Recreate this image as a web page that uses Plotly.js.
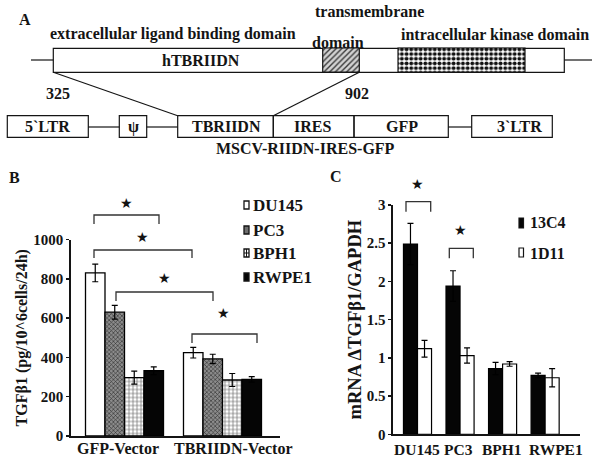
<!DOCTYPE html>
<html><head><meta charset="utf-8">
<script src="https://cdn.plot.ly/plotly-3.0.1.min.js"></script>
<style>html,body{margin:0;padding:0;background:#fff;} #chart{width:601px;height:462px;}</style>
</head><body><div id="chart"></div>
<script>
// ---------- Panel B data ----------
const groupsB = ['GFP-Vector', 'TBRIIDN-Vector'];
const seriesB = ['DU145', 'PC3', 'BPH1', 'RWPE1'];
const du145B = [830, 424];
const du145BErr = [45, 27];
const pc3B = [630, 392];
const pc3BErr = [35, 24];
const bph1B = [297, 285];
const bph1BErr = [33, 33];
const rwpe1B = [332, 288];
const rwpe1BErr = [20, 14];
const yTicksB = [0, 200, 400, 600, 800, 1000];

// ---------- Panel C data ----------
const cellsC = ['DU145', 'PC3', 'BPH1', 'RWPE1'];
const seriesC = ['13C4', '1D11'];
const c13C4 = [2.49, 1.94, 0.86, 0.77];
const c13C4Err = [0.27, 0.20, 0.08, 0.03];
const c1D11 = [1.12, 1.03, 0.92, 0.74];
const c1D11Err = [0.11, 0.10, 0.03, 0.12];
const yTicksC = [0, 0.5, 1, 1.5, 2, 2.5, 3];

// ---------- helpers ----------
const W = 601, H = 462;
const px = p => p / W;
const py = p => 1 - p / H;
const INK = '#141414';
const F = (size, extra) => Object.assign({family: 'Liberation Serif, Times New Roman, serif', size: size, color: INK, weight: 'bold'}, extra || {});
const ann = (text, x, y, size, opts) => Object.assign({text: text, xref: 'paper', yref: 'paper', x: px(x), y: py(y),
  xanchor: 'center', yanchor: 'middle', showarrow: false, font: F(size)}, opts || {});
const star = (x, y) => ({text: '★', xref: 'paper', yref: 'paper', x: px(x), y: py(y), xanchor: 'center', yanchor: 'middle',
  showarrow: false, font: {family: 'DejaVu Sans', size: 14, color: INK}});
const rect = (x0, y0, x1, y1, fill, extra) => Object.assign({type: 'rect', xref: 'paper', yref: 'paper',
  x0: px(x0), x1: px(x1), y0: py(y0), y1: py(y1), fillcolor: fill || 'rgba(0,0,0,0)', line: {color: INK, width: 1.2}}, extra || {});
const seg = (x0, y0, x1, y1, w) => ({type: 'line', xref: 'paper', yref: 'paper', x0: px(x0), x1: px(x1), y0: py(y0), y1: py(y1),
  line: {color: INK, width: w || 1.2}});
const bracket = (x0, x1, yTop, yBot) => ({type: 'path', xref: 'paper', yref: 'paper',
  path: `M ${px(x0)} ${py(yBot)} L ${px(x0)} ${py(yTop)} L ${px(x1)} ${py(yTop)} L ${px(x1)} ${py(yBot)}`,
  line: {color: '#333', width: 1.3}});
const boldTicks = vals => vals.map(v => '<b>' + v + '</b>');

// ---------- traces ----------
const errStyle = arr => ({type: 'data', array: arr, visible: true, color: '#000', thickness: 1.2, width: 3});
const bw = 0.199;
const valsB = [du145B, pc3B, bph1B, rwpe1B];
const errsB = [du145BErr, pc3BErr, bph1BErr, rwpe1BErr];
const markersB = [
  {color: '#ffffff', line: {color: '#000', width: 1.3}},
  {color: '#7a7a7a', line: {color: '#000', width: 1.3},
    pattern: {shape: 'x', fgcolor: '#2b2b2b', bgcolor: '#8c8c8c', size: 3, solidity: 0.35, fillmode: 'replace'}},
  {color: '#ffffff', line: {color: '#000', width: 1.3},
    pattern: {shape: '+', fgcolor: '#707070', bgcolor: '#ffffff', size: 4, solidity: 0.33, fillmode: 'replace'}},
  {color: '#050505', line: {color: '#000', width: 1.3}}
];
const traces = seriesB.map((name, k) => ({
  type: 'bar', name: name, x: groupsB, y: valsB[k], xaxis: 'x', yaxis: 'y',
  width: bw, offset: (k - 2) * bw, marker: markersB[k], error_y: errStyle(errsB[k]), hoverinfo: 'x+y+name'
}));

const cw = 0.33;
traces.push({type: 'bar', name: seriesC[0], x: cellsC, y: c13C4, xaxis: 'x2', yaxis: 'y2', width: cw, offset: -cw,
  marker: {color: '#050505', line: {color: '#000', width: 1.2}}, error_y: errStyle(c13C4Err)});
traces.push({type: 'bar', name: seriesC[1], x: cellsC, y: c1D11, xaxis: 'x2', yaxis: 'y2', width: cw, offset: 0,
  marker: {color: '#ffffff', line: {color: '#000', width: 1.2}}, error_y: errStyle(c1D11Err)});

// Panel A patterned domains (schematic, on a pixel overlay axis)
traces.push({type: 'bar', orientation: 'h', xaxis: 'x3', yaxis: 'y3', y: [60], base: [322.7], x: [36.6], width: [24],
  hoverinfo: 'skip', marker: {color: '#cccccc', line: {color: INK, width: 1.2},
  pattern: {shape: '/', fgcolor: '#3a3a3a', bgcolor: '#d2d2d2', size: 4, solidity: 0.35, fillmode: 'replace'}}});
traces.push({type: 'bar', orientation: 'h', xaxis: 'x3', yaxis: 'y3', y: [60], base: [398], x: [127], width: [24],
  hoverinfo: 'skip', marker: {color: '#777', line: {color: INK, width: 1.2},
  pattern: {shape: '.', fgcolor: '#111111', bgcolor: '#ffffff', size: 4.7, solidity: 0.55, fillmode: 'replace'}}});

// ---------- shapes ----------
const shapes = [
  // Panel A gene bar
  rect(53.3, 48.3, 564.3, 72.3, '#ffffff', {layer: 'below'}),
  seg(31, 60, 53.3, 60), seg(564.3, 60, 592, 60),
  seg(53.3, 72.3, 177.7, 115.7), seg(359.3, 72.3, 273.3, 115.7),
  // Panel A construct
  rect(7.3, 115.7, 88.3, 137.3), rect(119.3, 115.7, 146.7, 137.3),
  rect(177.7, 115.7, 273.3, 137.3), rect(273.3, 115.7, 354, 137.3), rect(354, 115.7, 448.3, 137.3),
  rect(471.7, 115.7, 552.3, 137.3),
  seg(88.3, 127, 119.3, 127), seg(146.7, 127, 177.7, 127), seg(448.3, 127, 471.7, 127),
  // Panel B brackets
  bracket(94, 159, 215, 224), bracket(94, 192, 250, 258), bracket(116, 213, 292, 301), bracket(192, 257, 334, 343),
  // Panel C brackets
  bracket(406, 430.7, 201.7, 211.7), bracket(449.3, 473.3, 248.3, 258.3),
  // Panel B legend icons
  rect(244, 201, 249, 209, '#ffffff', {line: {color: INK, width: 1.3}}),
  rect(244, 226, 249, 234, '#6e6e6e', {line: {color: INK, width: 1.3}}),
  rect(244, 249, 249, 257, '#ffffff', {line: {color: INK, width: 1.3}}),
  seg(244, 253, 249, 253, 1), seg(246.5, 249, 246.5, 257, 1),
  rect(244, 273, 249, 281, '#050505', {line: {color: INK, width: 1.3}}),
  // Panel C legend icons
  rect(519, 218, 523.5, 228, '#050505', {line: {color: INK, width: 1.2}}),
  rect(519, 248, 523.5, 257, '#ffffff', {line: {color: INK, width: 1.2}})
];

// ---------- annotations ----------
const annotations = [
  ann('A', 25, 20, 16),
  ann('transmembrane', 369, 11, 16),
  ann('extracellular ligand binding domain', 173, 34, 16),
  ann('domain', 338, 42, 16),
  ann('intracellular kinase domain', 495, 34, 16),
  ann('hTBRIIDN', 201, 60, 16),
  ann('325', 58, 93, 16),
  ann('902', 357, 93, 16),
  ann('5`LTR', 47.5, 126.5, 16),
  ann('ψ', 133, 126.5, 16),
  ann('TBRIIDN', 226, 126.5, 16),
  ann('IRES', 312, 126.5, 16),
  ann('GFP', 401.5, 126.5, 16),
  ann('3`LTR', 519, 126.5, 16),
  ann('MSCV-RIIDN-IRES-GFP', 305.7, 148.5, 16),
  ann('B', 14, 178, 16),
  ann('C', 336, 176, 16),
  // x category labels
  ann(groupsB[0], 118, 448, 16), ann(groupsB[1], 233.5, 448, 16),
  ann(cellsC[0], 417, 449, 15.5), ann(cellsC[1], 458, 449, 15.5), ann(cellsC[2], 502, 449, 15.5), ann(cellsC[3], 556, 449, 15.5),
  // legends
  ann(seriesB[0], 251, 205, 17, {xanchor: 'left'}),
  ann(seriesB[1], 251, 230, 17, {xanchor: 'left'}),
  ann(seriesB[2], 251, 253, 17, {xanchor: 'left'}),
  ann(seriesB[3], 251, 277, 17, {xanchor: 'left'}),
  ann(seriesC[0], 528, 223, 16, {xanchor: 'left'}),
  ann(seriesC[1], 528, 253, 16, {xanchor: 'left'}),
  // significance stars
  star(126, 203), star(142, 237), star(164, 278), star(223, 313),
  star(417, 184), star(460, 230)
];

const yCommon = {showline: true, linecolor: INK, ticks: 'outside', tickcolor: INK, tickwidth: 1.5, ticklen: 3,
  showgrid: false, zeroline: false, fixedrange: true, tickfont: F(15), tickmode: 'array'};
const xCommon = {showline: true, linecolor: INK, ticks: '', showticklabels: false, showgrid: false, zeroline: false,
  fixedrange: true, type: 'category'};

const layout = {
  width: W, height: H, margin: {l: 0, r: 0, t: 0, b: 0},
  paper_bgcolor: '#ffffff', plot_bgcolor: 'rgba(0,0,0,0)',
  barmode: 'overlay', showlegend: false, font: F(15),
  xaxis: Object.assign({}, xCommon, {domain: [px(71), px(280)], range: [-0.546, 1.587], anchor: 'y', linewidth: 1.8}),
  yaxis: Object.assign({}, yCommon, {domain: [py(436), py(239.5)], range: [0, 1000], tickvals: yTicksB,
    ticktext: boldTicks(yTicksB), anchor: 'x', linewidth: 1.8,
    title: {text: 'TGFβ1 (pg/10^6cells/24h)', font: F(16), standoff: 2}}),
  xaxis2: Object.assign({}, xCommon, {domain: [px(393), px(580)], range: [-0.576, 3.82], anchor: 'y2', linewidth: 1.6}),
  yaxis2: Object.assign({}, yCommon, {domain: [py(434.3), py(205)], range: [0, 3], tickvals: yTicksC,
    ticktext: boldTicks(yTicksC), anchor: 'x2', linewidth: 1.6,
    title: {text: 'mRNA ΔTGFβ1/GAPDH', font: F(18.5), standoff: 0}}),
  xaxis3: {domain: [0, 1], range: [0, W], anchor: 'y3', visible: false, fixedrange: true},
  yaxis3: {domain: [0, 1], range: [H, 0], anchor: 'x3', visible: false, fixedrange: true},
  shapes: shapes, annotations: annotations
};

Plotly.newPlot('chart', traces, layout, {displayModeBar: false, staticPlot: true});
</script></body></html>
